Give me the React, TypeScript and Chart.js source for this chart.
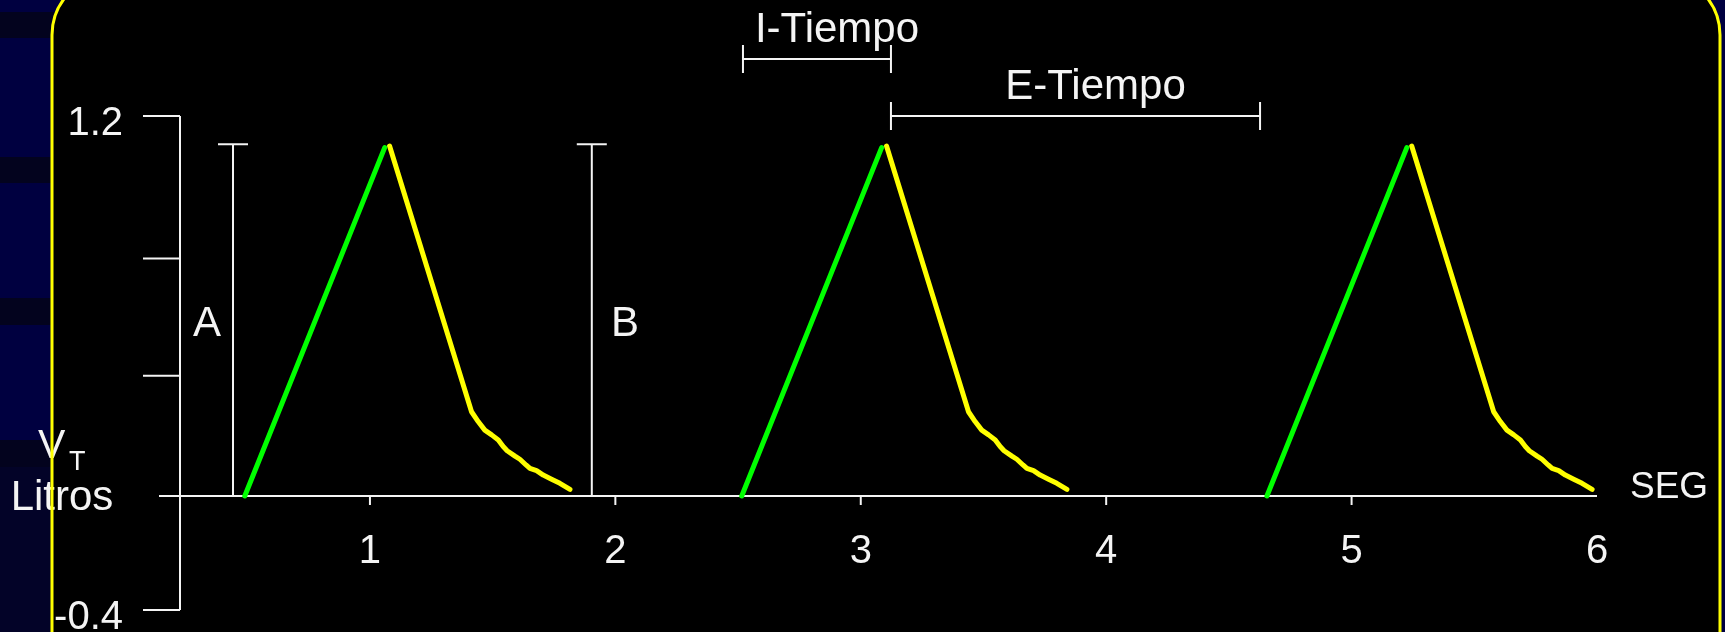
import { useEffect, useRef } from 'react';
import { Chart, registerables } from 'chart.js';

Chart.register(...registerables);

// ---------- data (seconds, litres) ----------
const inspiration1: [number, number][] = [[0.49, 0], [1.06, 1.1]];
const expiration1: [number, number][] = [
  [1.08, 1.105], [1.414, 0.266], [1.441, 0.235], [1.468, 0.208], [1.496, 0.193], [1.523, 0.177],
  [1.543, 0.156], [1.559, 0.143], [1.591, 0.126], [1.611, 0.116], [1.636, 0.098], [1.652, 0.087],
  [1.679, 0.08], [1.706, 0.066], [1.74, 0.053], [1.774, 0.04], [1.815, 0.021],
];
const inspiration2: [number, number][] = [[2.515, 0], [3.085, 1.1]];
const expiration2: [number, number][] = [
  [3.105, 1.105], [3.439, 0.266], [3.466, 0.235], [3.493, 0.208], [3.521, 0.193], [3.548, 0.177],
  [3.568, 0.156], [3.584, 0.143], [3.616, 0.126], [3.636, 0.116], [3.661, 0.098], [3.677, 0.087],
  [3.704, 0.08], [3.731, 0.066], [3.765, 0.053], [3.799, 0.04], [3.84, 0.021],
];
const inspiration3: [number, number][] = [[4.655, 0], [5.225, 1.1]];
const expiration3: [number, number][] = [
  [5.245, 1.105], [5.579, 0.266], [5.606, 0.235], [5.633, 0.208], [5.661, 0.193], [5.688, 0.177],
  [5.708, 0.156], [5.724, 0.143], [5.756, 0.126], [5.776, 0.116], [5.801, 0.098], [5.817, 0.087],
  [5.844, 0.08], [5.871, 0.066], [5.905, 0.053], [5.939, 0.04], [5.98, 0.021],
];

const xTickValues = [1, 2, 3, 4, 5, 6];
const xTickLabels = ['1', '2', '3', '4', '5', '6'];
const yTickValues = [1.2, 0.75, 0.38, 0, -0.36];
const yTickLabels = ['1.2', '', '', '', '-0.4'];
const xAxisTitle = 'SEG';
const yAxisTitleMain = 'V';
const yAxisTitleSub = 'T';
const yAxisTitleUnit = 'Litros';

// vertical volume markers
const markerLabels = ['A', 'B'];
const markerX = [0.442, 1.904];
const markerTop = [1.111, 1.111];
const markerLabelX = [0.336, 2.039];
const markerLabelY = [0.505, 0.505];

// time brackets
const timeLabels = ['I-Tiempo', 'E-Tiempo'];
const timeStart = [2.52, 3.123];
const timeEnd = [3.123, 4.627];
const timeLevel = [1.38, 1.2];

// ---------- styles ----------
const W = 1725;
const H = 632;
const FONT = '"Liberation Sans", Arial, Helvetica, sans-serif';
const NAVY = '#000040';
const GREEN = '#00ff00';
const YELLOW = '#ffff00';
const WHITE = '#f4f4f4';

const toPts = (a: [number, number][]) => a.map(([x, y]) => ({ x, y }));

const slidePlugin = {
  id: 'slide',
  beforeDraw(chart: any) {
    const ctx = chart.ctx as CanvasRenderingContext2D;
    ctx.save();
    ctx.fillStyle = NAVY;
    ctx.fillRect(0, 0, W, H);
    ctx.fillStyle = '#03031e';
    [[12, 38], [157, 183], [298, 325], [440, 467]].forEach(([a, b]) => ctx.fillRect(0, a, 60, b - a));
    ctx.fillStyle = '#030328';
    ctx.fillRect(0, 467, 60, H - 467);
    ctx.beginPath();
    (ctx as any).roundRect(52, -25, 1720 - 52, H + 120, 60);
    ctx.fillStyle = '#000000';
    ctx.fill();
    ctx.restore();
  },
  beforeDatasetsDraw(chart: any) {
    const ctx = chart.ctx as CanvasRenderingContext2D;
    const xs = chart.scales.x;
    const ys = chart.scales.y;
    const area = chart.chartArea;
    const y0 = ys.getPixelForValue(0);
    ctx.save();
    ctx.strokeStyle = WHITE;
    ctx.fillStyle = WHITE;
    ctx.lineWidth = 2;
    // y axis
    ctx.beginPath();
    ctx.moveTo(area.left, ys.getPixelForValue(yTickValues[0]));
    ctx.lineTo(area.left, ys.getPixelForValue(yTickValues[yTickValues.length - 1]));
    ctx.stroke();
    ctx.font = `40px ${FONT}`;
    ctx.textAlign = 'right';
    ctx.textBaseline = 'alphabetic';
    yTickValues.forEach((v, i) => {
      const py = ys.getPixelForValue(v);
      if (v !== 0) {
        ctx.beginPath();
        ctx.moveTo(area.left - 37, py);
        ctx.lineTo(area.left, py);
        ctx.stroke();
      }
      if (yTickLabels[i]) ctx.fillText(yTickLabels[i], area.left - 57, py + 19);
    });
    // x axis
    ctx.beginPath();
    ctx.moveTo(area.left - 21, y0);
    ctx.lineTo(area.right, y0);
    ctx.stroke();
    ctx.textAlign = 'center';
    xTickValues.forEach((v, i) => {
      const px = xs.getPixelForValue(v);
      if (i < xTickValues.length - 1) {
        ctx.beginPath();
        ctx.moveTo(px, y0);
        ctx.lineTo(px, y0 + 9);
        ctx.stroke();
      }
      ctx.fillText(xTickLabels[i], px, y0 + 67);
    });
    // axis titles
    ctx.textAlign = 'left';
    ctx.font = `37px ${FONT}`;
    ctx.fillText(xAxisTitle, area.right + 33, y0 + 2);
    ctx.font = `41px ${FONT}`;
    ctx.fillText(yAxisTitleMain, 38, y0 - 38);
    ctx.font = `27px ${FONT}`;
    ctx.fillText(yAxisTitleSub, 69, y0 - 26);
    ctx.font = `42px ${FONT}`;
    ctx.textAlign = 'center';
    ctx.fillText(yAxisTitleUnit, 62, y0 + 14);
    ctx.restore();
  },
  afterDatasetsDraw(chart: any) {
    const ctx = chart.ctx as CanvasRenderingContext2D;
    const xs = chart.scales.x;
    const ys = chart.scales.y;
    const y0 = ys.getPixelForValue(0);
    ctx.save();
    ctx.strokeStyle = WHITE;
    ctx.fillStyle = WHITE;
    ctx.lineWidth = 2;
    ctx.textBaseline = 'alphabetic';
    ctx.textAlign = 'center';
    ctx.font = `42px ${FONT}`;
    markerLabels.forEach((lab, i) => {
      const px = xs.getPixelForValue(markerX[i]);
      const pt = ys.getPixelForValue(markerTop[i]);
      ctx.beginPath();
      ctx.moveTo(px, y0);
      ctx.lineTo(px, pt);
      ctx.moveTo(px - 15, pt);
      ctx.lineTo(px + 15, pt);
      ctx.stroke();
      ctx.fillText(lab, xs.getPixelForValue(markerLabelX[i]), ys.getPixelForValue(markerLabelY[i]));
    });
    timeLabels.forEach((lab, i) => {
      const a = xs.getPixelForValue(timeStart[i]);
      const b = xs.getPixelForValue(timeEnd[i]);
      const py = ys.getPixelForValue(timeLevel[i]);
      ctx.beginPath();
      ctx.moveTo(a, py);
      ctx.lineTo(b, py);
      ctx.moveTo(a, py - 14);
      ctx.lineTo(a, py + 14);
      ctx.moveTo(b, py - 14);
      ctx.lineTo(b, py + 14);
      ctx.stroke();
      ctx.fillText(lab, (a + b) / 2 + 20, py - 17);
    });
    ctx.restore();
  },
  afterDraw(chart: any) {
    const ctx = chart.ctx as CanvasRenderingContext2D;
    ctx.save();
    ctx.beginPath();
    (ctx as any).roundRect(52, -25, 1720 - 52, H + 120, 60);
    ctx.strokeStyle = YELLOW;
    ctx.lineWidth = 3;
    ctx.stroke();
    ctx.restore();
  },
};

export default function App() {
  const canvasRef = useRef<HTMLCanvasElement | null>(null);

  useEffect(() => {
    document.body.style.margin = '0';
    document.body.style.overflow = 'hidden';
    const canvas = canvasRef.current;
    if (!canvas) return;
    const line = (data: [number, number][], color: string) => ({
      data: toPts(data),
      borderColor: color,
      backgroundColor: color,
      borderWidth: 5,
      pointRadius: 0,
      tension: 0,
      fill: false,
      showLine: true,
      borderCapStyle: 'round' as const,
      borderJoinStyle: 'round' as const,
      clip: false as any,
    });
    const chart = new Chart(canvas, {
      type: 'line',
      data: {
        datasets: [
          line(inspiration1, GREEN),
          line(expiration1, YELLOW),
          line(inspiration2, GREEN),
          line(expiration2, YELLOW),
          line(inspiration3, GREEN),
          line(expiration3, YELLOW),
        ],
      },
      options: {
        responsive: false,
        devicePixelRatio: 1,
        animation: false,
        layout: { padding: { left: 180, right: 128, top: 116, bottom: 22 } },
        plugins: { legend: { display: false }, tooltip: { enabled: false }, title: { display: false } },
        scales: {
          x: { type: 'linear', min: 0.226, max: 6.0, display: false },
          y: { type: 'linear', min: -0.36, max: 1.2, display: false },
        },
        events: [],
      },
      plugins: [slidePlugin],
    });
    return () => chart.destroy();
  }, []);

  return (
    <div style={{ width: W, height: H, position: 'relative' }}>
      <canvas ref={canvasRef} width={W} height={H} style={{ display: 'block' }} />
    </div>
  );
}
